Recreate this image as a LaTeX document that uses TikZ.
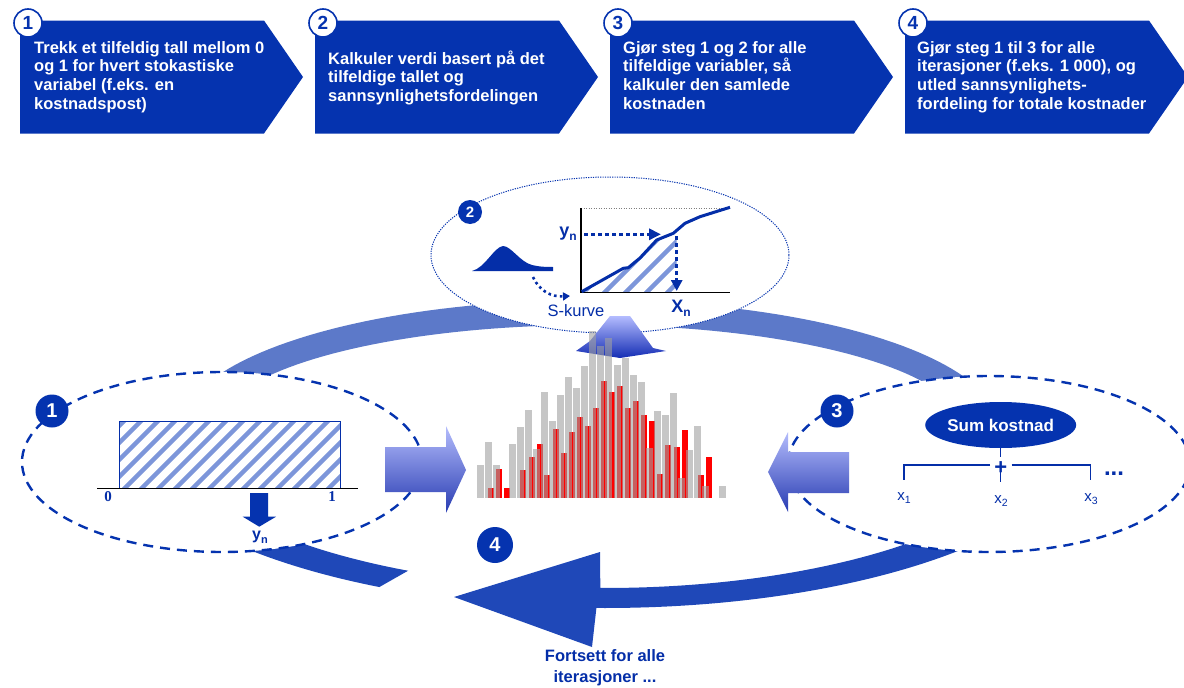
\documentclass[tikz,border=0pt]{standalone}
\usepackage{fontspec}
\setmainfont{Liberation Sans}
\newfontfamily\serifbf{Liberation Serif}
\usetikzlibrary{arrows.meta,shapes.geometric}
\definecolor{boxblue}{RGB}{5,51,175}
\definecolor{dblue}{RGB}{4,46,168}
\definecolor{ringtop}{RGB}{92,121,201}
\definecolor{ringbot}{RGB}{31,72,184}
\definecolor{hatch}{RGB}{125,150,218}
\definecolor{bargray}{RGB}{160,160,160}
\definecolor{arrlight}{RGB}{180,188,252}
\definecolor{arrdark}{RGB}{40,60,178}
\definecolor{uplight}{RGB}{180,188,255}
\definecolor{updark}{RGB}{20,45,180}
\newcommand{\lowsub}[2]{\raisebox{-0.45ex}{\fontsize{#2}{#2}\selectfont #1}}
\tikzset{
 chev/.style={fill=boxblue},
 chevtext/.style={anchor=north west, inner sep=0pt, align=left, text=white, font=\fontsize{16.5}{18.7}\selectfont\bfseries},
 numw/.style={circle, draw=boxblue, line width=1.6pt, fill=white, minimum size=28pt, inner sep=0pt, text=boxblue, font=\fontsize{19}{19}\selectfont\bfseries},
 numf/.style={circle, fill=boxblue, minimum size=33pt, inner sep=0pt, text=white, font=\fontsize{20}{20}\selectfont\bfseries},
 dashell/.style={ellipse, draw=boxblue, line width=2.4pt, dash pattern=on 10pt off 7pt, fill=white, inner sep=0pt},
 dotell/.style={ellipse, draw=boxblue, line width=1pt, dash pattern=on 1.2pt off 1.2pt, fill=white, inner sep=0pt},
 bluelbl/.style={text=dblue, inner sep=0pt},
 hatchline/.style={draw=hatch, line width=4.5pt},
 redbar/.style={fill=red},
 graybar/.style={fill=bargray, fill opacity=0.6},
 blockarrow/.style={top color=arrlight, bottom color=arrdark},
 conn/.style={draw=dblue, line width=1.3pt},
 dotarrow/.style={draw=dblue, line width=3.5pt, dash pattern=on 3.5pt off 3.5pt},
}
\begin{document}
\begin{tikzpicture}[x=1pt,y=-1pt]
\useasboundingbox (0,0) rectangle (1184,688);
% ---------- top chevrons ----------
\foreach \L in {20,315,610,905}{
  \fill[chev] (\L,20.5) -- ++(244,0) -- ++(39,56.5) -- ++(-39,56.5) -- ++(-244,0) -- cycle;
}
\node[chevtext] (t1) at (34,41) {Trekk et tilfeldig tall mellom 0\\og 1 for hvert stokastiske\\variabel (f.eks. en\\kostnadspost)};
\node[chevtext] (t2) at (328,50.5) {Kalkuler verdi basert på det\\tilfeldige tallet og\\sannsynlighetsfordelingen};
\node[chevtext] (t3) at (623,41) {Gjør steg 1 og 2 for alle\\tilfeldige variabler, så\\kalkuler den samlede\\kostnaden};
\node[chevtext] (t4) at (917,41) {Gjør steg 1 til 3 for alle\\iterasjoner (f.eks. 1 000), og\\utled sannsynlighets-\\fordeling for totale kostnader};
\node[numw] (n1) at (28,23) {1};
\node[numw] (n2) at (323,23) {2};
\node[numw] (n3) at (618,23) {3};
\node[numw] (n4) at (913,23) {4};
% ---------- ring bands ----------
\fill[ringtop] plot[domain=180:360, samples=90] ({590+410*cos(\x)},{430+130*sin(\x)})
  -- plot[domain=360:180, samples=90] ({590+375*cos(\x)},{430+105*sin(\x)}) -- cycle;
\fill[ringbot] plot[domain=0:90.6, samples=90] ({605+446*cos(\x)},{420+168*sin(\x)})
  -- (600,552) -- (454,597) -- (592,647)
  -- plot[domain=91:0, samples=90] ({605+492*cos(\x)},{420+188*sin(\x)}) -- cycle;
\fill[ringbot] plot[domain=140:116.2, samples=30] ({605+446*cos(\x)},{420+168*sin(\x)})
  -- plot[domain=117.3:140, samples=30] ({605+492*cos(\x)},{420+188*sin(\x)}) -- cycle;
% ---------- ellipses ----------
\node[dashell, minimum width=400pt, minimum height=180pt] (e1) at (222,462) {};
\node[dashell, minimum width=402pt, minimum height=176pt] (e3) at (989,464) {};
\node[dotell, minimum width=358pt, minimum height=156pt] (e2) at (610,255) {};
% ---------- block arrows ----------
\shade[blockarrow] (385,447) -- (446,447) -- (446,426) -- (466,470) -- (446,513) -- (446,492) -- (385,492) -- cycle;
\shade[blockarrow] (768,472) -- (788,432) -- (788,452) -- (849,452) -- (849,493) -- (788,493) -- (788,512) -- cycle;
\shade[top color=uplight, bottom color=updark] (610,316) -- (630,316) -- (653,348) -- (666,351) -- (620,358) -- (576,351) -- (590,341) -- cycle;
% ---------- histogram ----------
\foreach \x/\t in {488/488,496/469,504/488,520/470,529/457,537/444,544/475,553/429,561/453,569/432,577/417,585/426,593/408,601/381,609/392,617/386,625/408,633/401,641/415,649/421,657/474,665/445,674/447,682/430,698/475,706/457}
  \fill[redbar] (\x,\t) rectangle ({\x+6},498);
\foreach \x/\t in {477/465,485/442,493/465,509/444,517/427,525/410,533/449,541/392,549/421,557/395,565/377,573/388,581/366,589/331,597/346,605/338,614/365,622/358,630/375,638/382,646/448,654/411,662/415,670/393,678/478,686/450,694/426,702/486,719/486}
  \fill[graybar] (\x,\t) rectangle ({\x+7},498);
% ---------- left ellipse content ----------
\node[numf] (c1) at (52,411) {1};
\begin{scope}
  \clip (119,421) rectangle (340,488);
  \foreach \i in {0,...,18} \draw[hatchline] ({50+\i*17},495) -- ++(80,-80);
\end{scope}
\draw[draw=dblue, line width=1pt] (119,421) rectangle (340,488);
\draw[black, line width=1.1pt] (97,488.5) -- (358,488.5);
\node[bluelbl, font=\serifbf\fontsize{15}{15}\selectfont\bfseries] (zero) at (108,497) {0};
\node[bluelbl, font=\serifbf\fontsize{15}{15}\selectfont\bfseries] (one) at (332,497) {1};
\fill[boxblue] (250,493) -- (268,493) -- (268,516.7) -- (276,516.7) -- (259.3,526.7) -- (242.7,516.7) -- (250,516.7) -- cycle;
\node[bluelbl, font=\fontsize{16}{16}\selectfont\bfseries] (yn1) at (260,537) {y\lowsub{n}{11}};
% ---------- top ellipse content ----------
\node[numf, minimum size=24pt, font=\fontsize{15}{15}\selectfont\bfseries] (c2) at (470,212) {2};
\fill[dblue] (472,271) .. controls (485,268) and (494,247) .. (503,246) .. controls (511,246) and (520,262) .. (532,265) .. controls (540,267) and (548,267) .. (553,267) -- (553,271) -- cycle;
\coordinate (bellend) at (533,277);
\coordinate (sk) at (570,296);
\draw[draw=dblue, line width=2.6pt, dash pattern=on 2.6pt off 3.2pt, -{Triangle[length=7pt,width=8pt]}] (bellend) .. controls (540,292) and (552,297) .. (sk);
\node[bluelbl, font=\fontsize{16.5}{16.5}\selectfont] (skurve) at (576,311) {S-kurve};
\begin{scope}
  \clip (581.7,291.7) -- (623.3,268.3) -- (628.3,267.7) -- (640,258) -- (656.7,240) -- (673.3,233.3) -- (676.7,230.5) -- (676.7,292) -- cycle;
  \foreach \i in {0,...,9} \draw[hatchline] ({492+\i*21},300) -- ++(90,-90);
\end{scope}
\draw[gray, line width=0.8pt, dash pattern=on 1pt off 1.5pt] (581,208) -- (730,208);
\draw[black, line width=1.4pt] (581,208) -- (581,292.5) -- (730,292.5);
\draw[dblue, line width=3pt, line join=round] (581.7,291.7) -- (623.3,268.3) -- (628.3,267.7) -- (640,258) -- (656.7,240) -- (673.3,233.3) -- (685,223.3) -- (700,216.7) -- (730,207.3);
\node[bluelbl, font=\fontsize{18}{18}\selectfont\bfseries] (yn2) at (568,234) {y\lowsub{n}{12}};
\coordinate (ha) at (584,234.3);
\coordinate (hb) at (661,234.3);
\draw[dotarrow, -{Triangle[length=12pt,width=11pt]}] (ha) -- (hb);
\coordinate (va) at (676.7,236);
\coordinate (vb) at (676.7,291);
\draw[dotarrow, -{Triangle[length=11pt,width=11pt]}] (va) -- (vb);
\node[bluelbl, font=\fontsize{18}{18}\selectfont\bfseries] (xn) at (681,308) {X\lowsub{n}{12}};
% ---------- right ellipse content ----------
\node[numf] (c3) at (837,411) {3};
\node[ellipse, fill=boxblue, minimum width=115pt, minimum height=46pt, inner sep=0pt, text=white, font=\fontsize{17}{17}\selectfont\bfseries] (sum) at (1000.7,425) {Sum kostnad};
\node[bluelbl, font=\fontsize{22}{22}\selectfont\bfseries] (plus) at (1000.7,468) {+};
\coordinate (bl) at (904,465);
\coordinate (br) at (1090.7,465);
\coordinate (pl) at (990,465);
\coordinate (pr) at (1011.5,465);
\coordinate (pbot) at (1000.7,482);
\coordinate (ptop) at (1000.7,457);
\draw[conn] (sum.south) -- (ptop);
\draw[conn] (pl) -- (bl) -- ++(0,15);
\draw[conn] (pr) -- (br) -- ++(0,15);
\draw[conn] (plus.center) -- (pbot);
\node[bluelbl, font=\fontsize{15}{15}\selectfont] (x1) at (904,498) {x\lowsub{1}{10.5}};
\node[bluelbl, font=\fontsize{15}{15}\selectfont] (x2) at (1001,501) {x\lowsub{2}{10.5}};
\node[bluelbl, font=\fontsize{15}{15}\selectfont] (x3) at (1091,499) {x\lowsub{3}{10.5}};
\node[bluelbl, font=\fontsize{24}{24}\selectfont\bfseries] (dots) at (1114,474) {...};
% ---------- step 4 ----------
\node[numf, minimum size=36pt] (c4) at (495,545) {4};
\node[bluelbl, align=center, font=\fontsize{16.5}{21}\selectfont\bfseries] (cont) at (605,668) {Fortsett for alle\\iterasjoner ...};
\end{tikzpicture}
\end{document}
